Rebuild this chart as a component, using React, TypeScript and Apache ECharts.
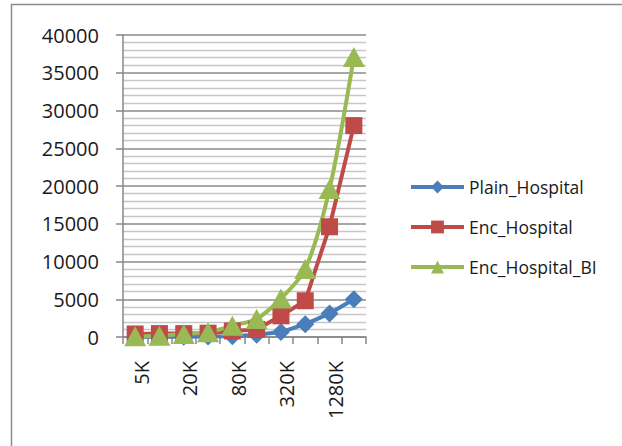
import React, { useEffect, useRef } from "react";
import * as echarts from "echarts";

// Dataset sizes along the x axis
const categories = ["5K", "10K", "20K", "40K", "80K", "160K", "320K", "640K", "1280K", "2560K"];

// Running times for each configuration
const plainHospital = [10, 20, 30, 50, 90, 300, 650, 1700, 3100, 5000];
const encHospital = [400, 450, 450, 500, 800, 1000, 2800, 4800, 14600, 28000];
const encHospitalBI = [100, 170, 400, 620, 1500, 2400, 5100, 9000, 19600, 37100];

const FONT = "'Open Sans', 'Noto Sans', sans-serif";
const AXIS_GRAY = "#878787";

export default function App() {
  const ref = useRef<HTMLDivElement>(null);

  useEffect(() => {
    if (!ref.current) return;
    const chart = echarts.init(ref.current, undefined, { renderer: "svg" });
    chart.setOption({
      animation: false,
      backgroundColor: "#ffffff",
      textStyle: { fontFamily: FONT },
      graphic: [
        {
          type: "rect",
          silent: true,
          shape: { x: 11.5, y: 4.5, width: 700, height: 600 },
          style: { fill: "none", stroke: "#8c8c8c", lineWidth: 1.5 },
        },
      ],
      grid: { left: 123, right: 256, top: 35, bottom: 109, containLabel: false },
      legend: {
        orient: "vertical",
        left: 404,
        top: 173,
        itemWidth: 53,
        itemHeight: 16,
        itemGap: 22,
        lineStyle: { width: 4 },
        textStyle: {
          fontFamily: FONT,
          fontSize: 17.5,
          lineHeight: 16,
          color: "#1a1a1a",
        },
        data: ["Plain_Hospital", "Enc_Hospital", "Enc_Hospital_BI"],
      },
      xAxis: {
        type: "category",
        data: categories,
        boundaryGap: true,
        axisLine: { lineStyle: { color: AXIS_GRAY, width: 1.5 } },
        axisTick: {
          show: true,
          interval: 0,
          length: 7,
          lineStyle: { color: AXIS_GRAY, width: 1.5 },
        },
        axisLabel: {
          interval: 1,
          rotate: 90,
          margin: 24,
          fontFamily: FONT,
          fontSize: 20,
          lineHeight: 12,
          verticalAlign: "top",
          color: "#1a1a1a",
        },
        splitLine: { show: false },
      },
      yAxis: {
        type: "value",
        min: 0,
        max: 40000,
        interval: 5000,
        axisLine: { show: true, lineStyle: { color: AXIS_GRAY, width: 1.5 } },
        axisTick: { show: true, length: 7, lineStyle: { color: AXIS_GRAY, width: 1.5 } },
        axisLabel: {
          margin: 24,
          fontFamily: FONT,
          fontSize: 20,
          color: "#1a1a1a",
          formatter: (v: number) => String(v),
        },
        splitLine: { show: true, lineStyle: { color: "#8a8a8a", width: 1.5 } },
        minorTick: { show: false, splitNumber: 5 },
        minorSplitLine: { show: true, lineStyle: { color: "#c6c6c6", width: 1.3 } },
      },
      series: [
        {
          name: "Plain_Hospital",
          type: "line",
          data: plainHospital,
          symbol: "diamond",
          symbolSize: 18,
          showAllSymbol: true,
          lineStyle: { color: "#4a7ebb", width: 4 },
          itemStyle: { color: "#4a7ebb" },
        },
        {
          name: "Enc_Hospital",
          type: "line",
          data: encHospital,
          symbol: "rect",
          symbolSize: 17,
          showAllSymbol: true,
          lineStyle: { color: "#be4b48", width: 4 },
          itemStyle: { color: "#be4b48" },
        },
        {
          name: "Enc_Hospital_BI",
          type: "line",
          data: encHospitalBI,
          symbol: "triangle",
          symbolSize: [22, 20],
          showAllSymbol: true,
          smooth: 0.3,
          lineStyle: { color: "#98b954", width: 4 },
          itemStyle: { color: "#98b954" },
        },
      ],
    });
    return () => chart.dispose();
  }, []);

  return (
    <div
      ref={ref}
      style={{ position: "absolute", left: 0, top: 0, width: 622, height: 446 }}
    />
  );
}
